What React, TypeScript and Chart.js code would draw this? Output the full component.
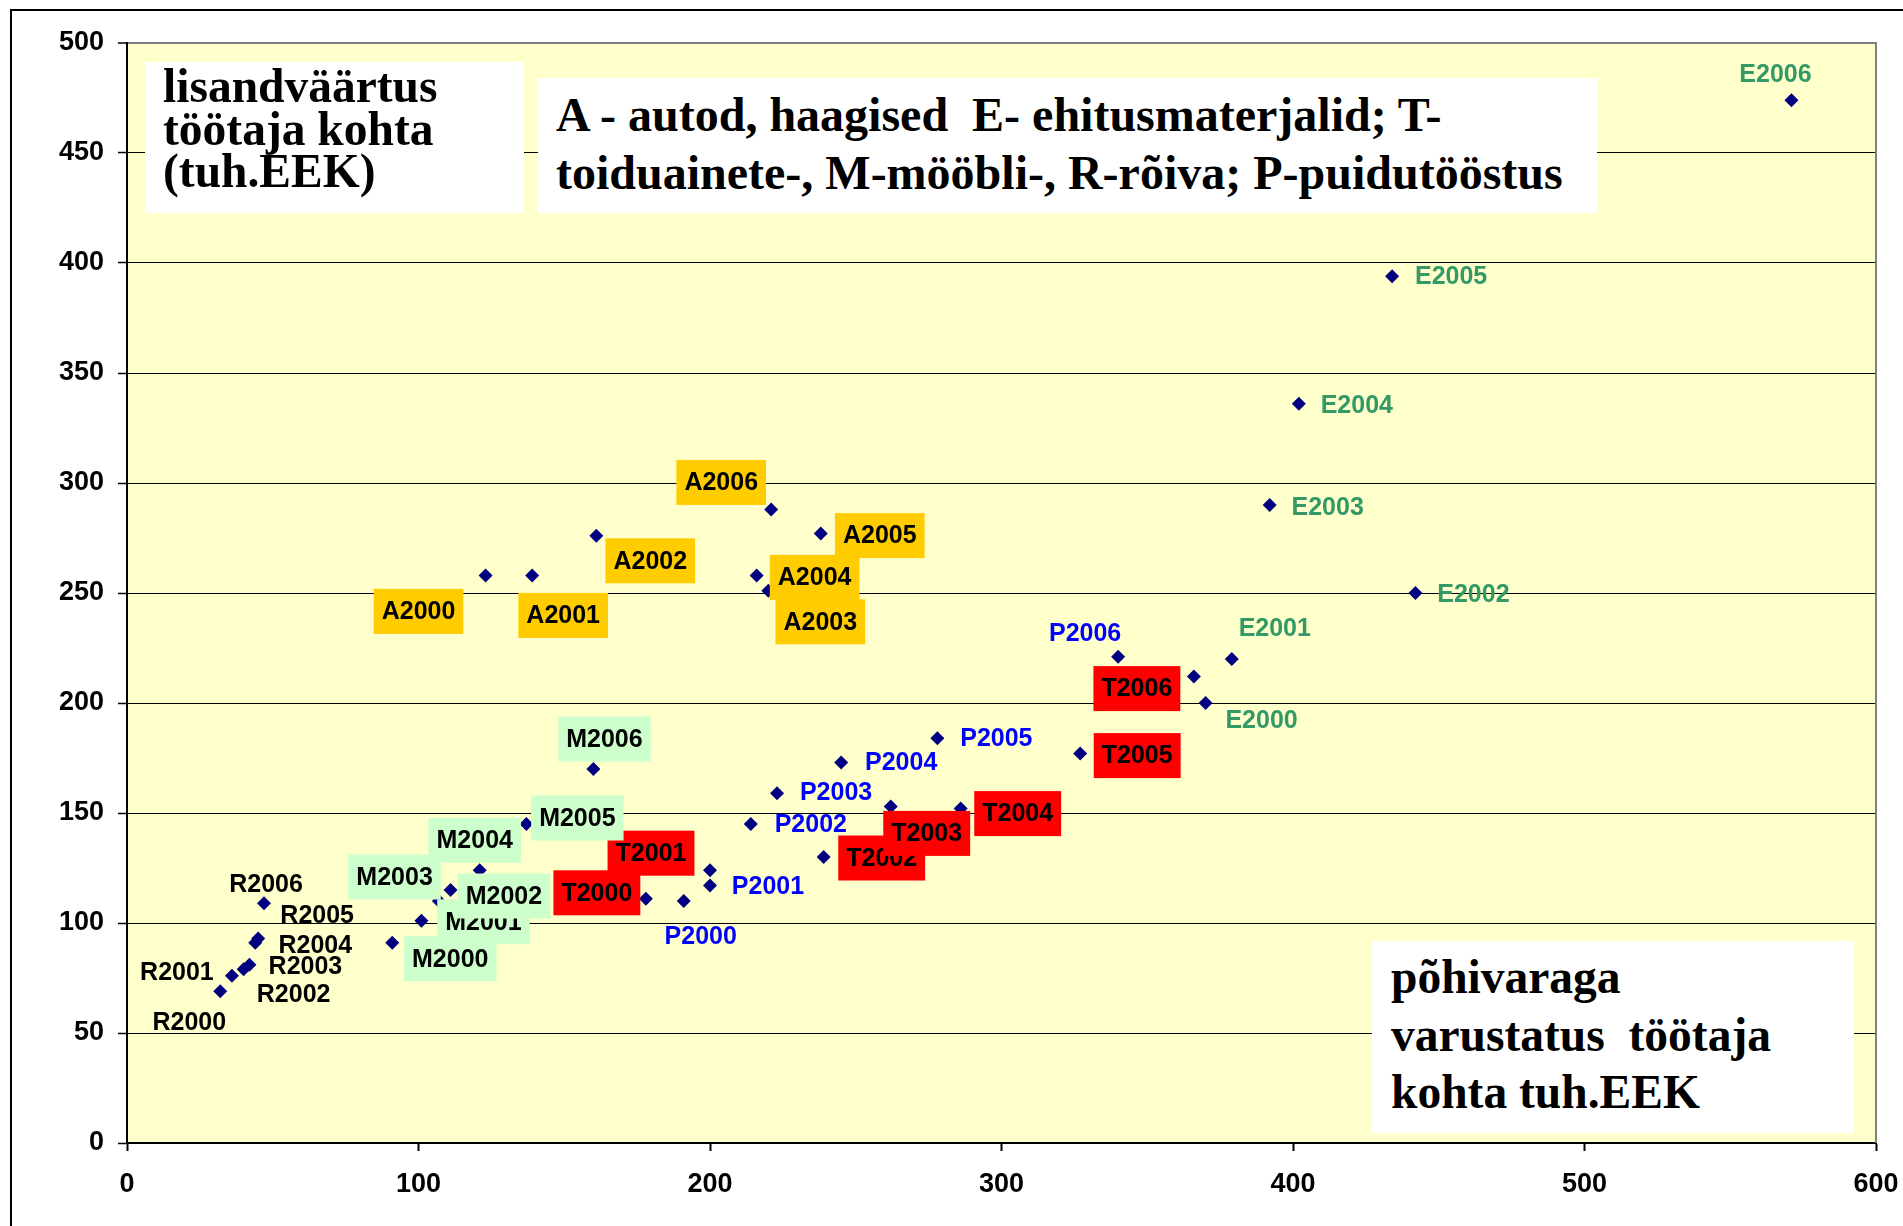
import React, { useEffect, useRef } from "react";
import { Chart, registerables } from "chart.js";

Chart.register(...registerables);

// ---- Data ----
const years = ["2000", "2001", "2002", "2003", "2004", "2005", "2006"];

// A - autod, haagised
const aX = [123, 139, 161, 220, 216, 238, 221];
const aY = [258, 258, 276, 251, 258, 277, 288];
// E - ehitusmaterjalid
const eX = [370, 379, 442, 392, 402, 434, 571];
const eY = [200, 220, 250, 290, 336, 394, 474];
// T - toiduainete
const tX = [178, 200, 239, 262, 286, 327, 366];
const tY = [111, 124, 130, 153, 152, 177, 212];
// M - mööbli
const mX = [91, 101, 107, 111, 121, 137, 160];
const mY = [91, 101, 110, 115, 124, 145, 170];
// R - rõiva
const rX = [32, 36, 40, 42, 44, 45, 47];
const rY = [69, 76, 79, 81, 91, 93, 109];
// P - puidutööstus
const pX = [191, 200, 214, 223, 245, 278, 340];
const pY = [110, 117, 145, 159, 173, 184, 221];

const xTicksMax = 600;
const yTicksMax = 500;

// ---- Label placement (pixel offsets from marker, layout only) ----
const aOff = [[-67, 36], [31, 40], [54, 25], [52, 31], [58, 2], [59, 2], [-50, -27]];
const eOff = [[56, 17], [43, -31], [58, 1], [58, 2], [58, 1], [59, 0], [-16, -26]];
const tOff = [[-49, -6], [-59, -17], [58, 1], [36, 27], [57, 5], [57, 2], [-57, 12]];
const mOff = [[58, 16], [62, 1], [65, -5], [-56, -13], [-5, -30], [51, -6], [11, -30]];
const rOff = [[-31, 31], [-55, -4], [50, 25], [56, 1], [60, 2], [59, -23], [2, -19]];
const pOff = [[17, 35], [58, 1], [60, 0], [59, -1], [60, 0], [59, 0], [-33, -24]];

type Series = {
  prefix: string;
  xs: number[];
  ys: number[];
  off: number[][];
  box: string | null;
  text: string;
};

const SERIES: Series[] = [
  { prefix: "A", xs: aX, ys: aY, off: aOff, box: "#FFCC00", text: "#000000" },
  { prefix: "E", xs: eX, ys: eY, off: eOff, box: null, text: "#339966" },
  { prefix: "T", xs: tX, ys: tY, off: tOff, box: "#FF0000", text: "#000000" },
  { prefix: "M", xs: mX, ys: mY, off: mOff, box: "#CCFFCC", text: "#000000" },
  { prefix: "R", xs: rX, ys: rY, off: rOff, box: null, text: "#000000" },
  { prefix: "P", xs: pX, ys: pY, off: pOff, box: null, text: "#0000FF" },
];

const SANS = '"Liberation Sans", Arial, Helvetica, sans-serif';
const SERIF = '"Liberation Serif", "Times New Roman", serif';

const bgPlugin = {
  id: "plotBg",
  beforeDraw(chart: any) {
    const { ctx, chartArea } = chart;
    ctx.save();
    ctx.fillStyle = "#FFFFCC";
    ctx.fillRect(chartArea.left, chartArea.top, chartArea.right - chartArea.left, chartArea.bottom - chartArea.top);
    ctx.restore();
  },
  afterDraw(chart: any) {
    const { ctx, chartArea } = chart;
    ctx.save();
    ctx.strokeStyle = "#808080";
    ctx.lineWidth = 2;
    ctx.beginPath();
    ctx.moveTo(chartArea.right, chartArea.top - 1);
    ctx.lineTo(chartArea.right, chartArea.bottom);
    ctx.stroke();
    ctx.restore();
  },
};

const labelPlugin = {
  id: "pointLabels",
  afterDatasetsDraw(chart: any) {
    const ctx = chart.ctx;
    ctx.save();
    ctx.font = `bold 25px ${SANS}`;
    ctx.textAlign = "center";
    ctx.textBaseline = "middle";
    SERIES.forEach((s, di) => {
      const meta = chart.getDatasetMeta(di);
      meta.data.forEach((el: any, i: number) => {
        const [dx, dy] = s.off[i];
        const cx = el.x + dx;
        const cy = el.y + dy;
        const text = s.prefix + years[i];
        if (s.box) {
          const w = ctx.measureText(text).width + 16;
          ctx.fillStyle = s.box;
          ctx.fillRect(cx - w / 2, cy - 22.5, w, 45);
        }
        ctx.fillStyle = s.text;
        ctx.fillText(text, cx, cy + 1);
      });
    });
    ctx.restore();
  },
};

function ChartCanvas() {
  const ref = useRef<HTMLCanvasElement | null>(null);
  useEffect(() => {
    if (!ref.current) return;
    const chart = new Chart(ref.current, {
      type: "scatter",
      data: {
        datasets: SERIES.map((s) => ({
          label: s.prefix,
          data: s.xs.map((x, i) => ({ x, y: s.ys[i] })),
          pointStyle: "rectRot",
          pointRadius: 7,
          pointBackgroundColor: "#000080",
          pointBorderColor: "#000080",
          pointBorderWidth: 0,
          showLine: false,
        })),
      },
      options: {
        responsive: false,
        animation: false,
        layout: { padding: { left: 0, right: 27, top: 43, bottom: 0 } },
        plugins: {
          legend: { display: false },
          tooltip: { enabled: false },
        },
        scales: {
          x: {
            type: "linear",
            min: 0,
            max: xTicksMax,
            afterFit: (scale: any) => {
              scale.height = 83;
              scale.paddingLeft = 0;
              scale.paddingRight = 0;
            },
            ticks: {
              stepSize: 100,
              color: "#000",
              padding: 17,
              font: { family: SANS, size: 27, weight: "bold" },
            },
            grid: {
              drawOnChartArea: false,
              drawTicks: true,
              tickLength: 8,
              tickColor: "#000",
              tickWidth: 2,
            },
            border: { display: true, color: "#000", width: 2 },
          },
          y: {
            type: "linear",
            min: 0,
            max: yTicksMax,
            afterFit: (scale: any) => {
              scale.width = 127;
              scale.paddingTop = 0;
              scale.paddingBottom = 0;
            },
            ticks: {
              stepSize: 50,
              color: "#000",
              padding: 14,
              font: { family: SANS, size: 27, weight: "bold" },
            },
            grid: {
              color: (c: any) => (c.tick && c.tick.value === yTicksMax ? "#808080" : "#000"),
              lineWidth: (c: any) => (c.tick && c.tick.value === yTicksMax ? 2 : 1),
              drawTicks: true,
              tickLength: 9,
              tickColor: "#000",
              tickWidth: 1.5,
            },
            border: { display: true, color: "#000", width: 2 },
          },
        },
      } as any,
      plugins: [bgPlugin, labelPlugin],
    });
    return () => chart.destroy();
  }, []);
  return <canvas ref={ref} width={1903} height={1226} style={{ display: "block" }} />;
}

const boxBase: React.CSSProperties = {
  position: "absolute",
  background: "#FFFFFF",
  fontFamily: SERIF,
  fontWeight: "bold",
  fontSize: 47.5,
  color: "#000",
  whiteSpace: "pre",
  boxSizing: "border-box",
};

export default function App() {
  return (
    <div style={{ position: "absolute", left: 0, top: 0, width: 1903, height: 1226, overflow: "hidden", background: "#fff" }}>
      <ChartCanvas />
      <div
        style={{
          position: "absolute",
          left: 10,
          top: 9,
          width: 1893,
          height: 1217,
          borderLeft: "2px solid #000",
          borderTop: "2px solid #000",
          boxSizing: "border-box",
          pointerEvents: "none",
        }}
      />
      <div style={{ ...boxBase, left: 145, top: 62, width: 379, height: 151, paddingLeft: 18, paddingTop: 3, lineHeight: "42.5px" }}>
        {"lisandväärtus\ntöötaja kohta\n(tuh.EEK)"}
      </div>
      <div style={{ ...boxBase, left: 538, top: 78, width: 1059, height: 135, paddingLeft: 18, paddingTop: 8, lineHeight: "58.3px", fontSize: 48 }}>
        {"A - autod, haagised  E- ehitusmaterjalid; T-\ntoiduainete-, M-mööbli-, R-rõiva; P-puidutööstus"}
      </div>
      <div style={{ ...boxBase, left: 1372, top: 941, width: 482, height: 192, paddingLeft: 19, paddingTop: 8, lineHeight: "57.5px" }}>
        {"põhivaraga\nvarustatus  töötaja\nkohta tuh.EEK"}
      </div>
    </div>
  );
}
